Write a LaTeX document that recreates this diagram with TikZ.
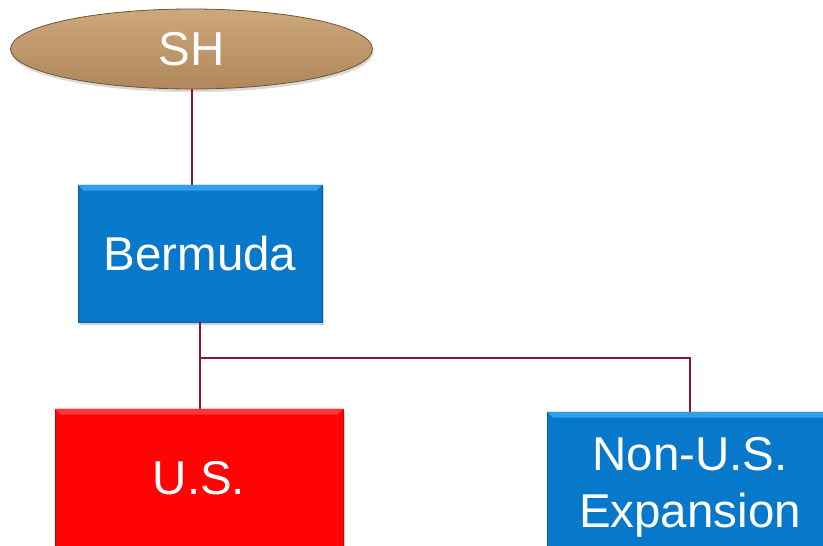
\documentclass[tikz,border=0pt]{standalone}
\usepackage{fontspec}
\setmainfont{Liberation Sans}
\usetikzlibrary{shapes.geometric,shadows}
\definecolor{boxblue}{RGB}{8,120,202}
\definecolor{boxbluelight}{RGB}{60,170,240}
\definecolor{boxred}{RGB}{255,4,4}
\definecolor{boxredlight}{RGB}{255,70,70}
\definecolor{tanlight}{RGB}{205,168,122}
\definecolor{tandark}{RGB}{175,135,90}
\definecolor{tanedge}{RGB}{110,85,55}
\definecolor{linkred}{RGB}{135,24,44}
\tikzset{
  txt/.style={text=white, font=\fontsize{47.5}{57}\selectfont, align=center},
  orgbox/.style={txt, rectangle, inner sep=0pt,
    drop shadow={opacity=0.35, shadow xshift=2pt, shadow yshift=-3pt}},
  bluebox/.style={orgbox, fill=boxblue, draw=boxblue!80!black, line width=0.6pt},
  redbox/.style={orgbox, fill=boxred, draw=boxred!80!black, line width=0.6pt},
  ownerbubble/.style={txt, ellipse, inner sep=0pt, top color=tanlight,
    bottom color=tandark, draw=tanedge, line width=0.8pt,
    drop shadow={opacity=0.3, shadow xshift=1pt, shadow yshift=-3pt}},
  link/.style={draw=linkred, line width=2pt},
  bevel/.style={opacity=0.8},
}
\begin{document}
\begin{tikzpicture}[x=1pt,y=-1pt]
  \useasboundingbox (0,0) rectangle (823,546);
  \coordinate (j) at (199.5,358);
  % owner and entities
  \node[ownerbubble, minimum width=362pt, minimum height=80pt] (sh) at (191.5,49) {SH};
  \node[bluebox, minimum width=244pt, minimum height=137pt] (bm) at (200,253.5) {Bermuda};
  \node[redbox, minimum width=288pt, minimum height=139pt] (us) at (199,478.5) {U.S.};
  \node[bluebox, minimum width=286pt, minimum height=150pt] (nu) at (690,487) {Non-U.S.\\Expansion};
  % ownership lines
  \draw[link] (sh.south) -- (sh.south |- bm.north);
  \draw[link] (j |- bm.south) -- (j |- us.north);
  \draw[link] (j) -| (nu.north);
  % bevel highlights along the top edges
  \foreach \b in {bm,nu}{
    \fill[boxbluelight, bevel] (\b.north west) -- (\b.north east)
      -- ([xshift=-6pt,yshift=-6pt]\b.north east) -- ([xshift=6pt,yshift=-6pt]\b.north west) -- cycle;
  }
  \fill[boxredlight, bevel] (us.north west) -- (us.north east)
    -- ([xshift=-6pt,yshift=-6pt]us.north east) -- ([xshift=6pt,yshift=-6pt]us.north west) -- cycle;
\end{tikzpicture}
\end{document}
